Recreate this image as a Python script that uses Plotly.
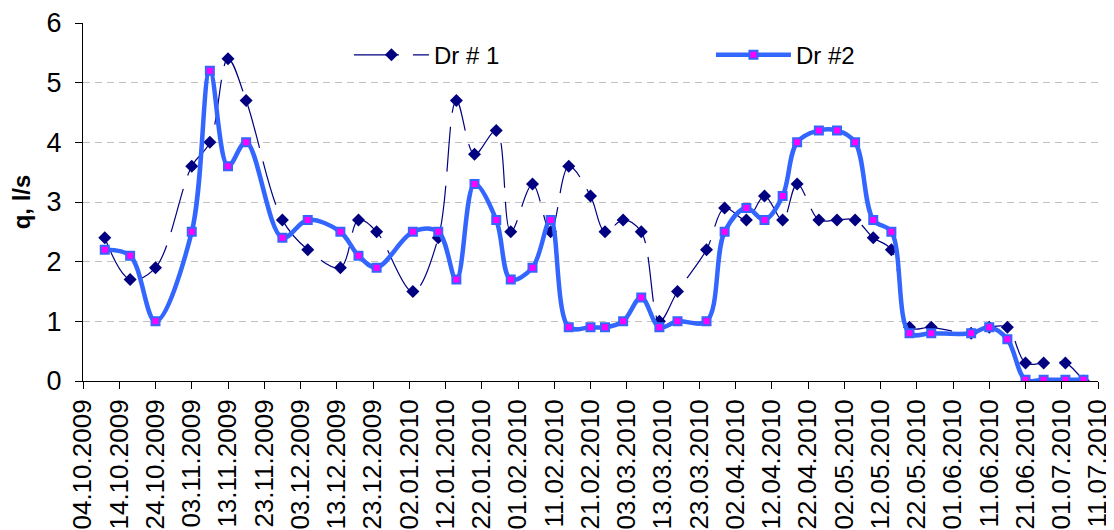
import plotly.graph_objects as go

dates = [
    "2009-10-10", "2009-10-17", "2009-10-24", "2009-11-03", "2009-11-08", "2009-11-13",
    "2009-11-18", "2009-11-28", "2009-12-05", "2009-12-14", "2009-12-19", "2009-12-24",
    "2010-01-03", "2010-01-10", "2010-01-15", "2010-01-20", "2010-01-26", "2010-01-30",
    "2010-02-05", "2010-02-10", "2010-02-15", "2010-02-21", "2010-02-25", "2010-03-02",
    "2010-03-07", "2010-03-12", "2010-03-17", "2010-03-25", "2010-03-30", "2010-04-05",
    "2010-04-10", "2010-04-15", "2010-04-19", "2010-04-25", "2010-04-30", "2010-05-05",
    "2010-05-10", "2010-05-15", "2010-05-20", "2010-05-26", "2010-06-06", "2010-06-11",
    "2010-06-16", "2010-06-21", "2010-06-26", "2010-07-02", "2010-07-07",
]

dr1 = [
    2.4, 1.7, 1.9, 3.6, 4.0, 5.4, 4.7, 2.7, 2.2, 1.9, 2.7, 2.5,
    1.5, 2.4, 4.7, 3.8, 4.2, 2.5, 3.3, 2.5, 3.6, 3.1, 2.5, 2.7, 2.5, 1.0, 1.5, 2.2, 2.9,
    2.7, 3.1, 2.7, 3.3, 2.7, 2.7, 2.7, 2.4, 2.2, 0.9, 0.9, 0.8, 0.9, 0.9, 0.3, 0.3, 0.3, 0.0,
]

dr2 = [
    2.2, 2.1, 1.0, 2.5, 5.2, 3.6, 4.0, 2.4, 2.7, 2.5, 2.1, 1.9,
    2.5, 2.5, 1.7, 3.3, 2.7, 1.7, 1.9, 2.7, 0.9, 0.9, 0.9, 1.0, 1.4, 0.9, 1.0, 1.0, 2.5,
    2.9, 2.7, 3.1, 4.0, 4.2, 4.2, 4.0, 2.7, 2.5, 0.8, 0.8, 0.8, 0.9, 0.7, 0.02, 0.02, 0.02, 0.02,
]

FONT = "Arial, Liberation Sans, sans-serif"
NAVY = "#000080"
BLUE = "#3366FF"
PINK = "#FF00FF"

fig = go.Figure()
fig.add_trace(go.Scatter(
    x=dates, y=dr1, name="Dr # 1", mode="lines+markers",
    line=dict(color=NAVY, width=1.2, dash="45px,14px", shape="spline", smoothing=1),
    marker=dict(symbol="diamond", size=10, color=NAVY),
))
fig.add_trace(go.Scatter(
    x=dates, y=dr2, name="Dr #2", mode="lines+markers",
    line=dict(color=BLUE, width=4.5, shape="spline", smoothing=1),
    marker=dict(symbol="square", size=8, color=PINK, line=dict(color=BLUE, width=2)),
))

# the page body adds an 8px offset, so the figure is 8px smaller with shifted margins
fig.update_layout(
    width=1106, height=522,
    margin=dict(l=75, r=16, t=15, b=149, autoexpand=False),
    plot_bgcolor="white", paper_bgcolor="white",
    font=dict(family=FONT, color="black"),
    legend=dict(
        orientation="h", x=0.262, y=0.91, xanchor="left", yanchor="middle",
        itemwidth=75, entrywidth=272, font=dict(size=24), bgcolor="rgba(0,0,0,0)",
    ),
)
fig.update_xaxes(
    type="date", range=["2009-10-04", "2010-07-11"],
    tick0="2009-10-04", dtick=10 * 86400000, tickformat="%d.%m.%Y",
    tickangle=-90, tickfont=dict(size=26),
    showline=True, linecolor="black", linewidth=1,
    ticks="outside", ticklen=7, tickcolor="black",
    showgrid=False, zeroline=False, automargin=False,
)
fig.update_yaxes(
    range=[0, 6], dtick=1, tickfont=dict(size=27),
    showline=True, linecolor="black", linewidth=1,
    ticks="outside", ticklen=7, tickcolor="black", ticklabelstandoff=8,
    showgrid=True, gridcolor="#c0c0c0", griddash="7px,5px", gridwidth=1,
    zeroline=False, automargin=False,
    title=dict(text="<b>q, l/s</b>", font=dict(size=24), standoff=14),
)

fig.write_html("out.html")
